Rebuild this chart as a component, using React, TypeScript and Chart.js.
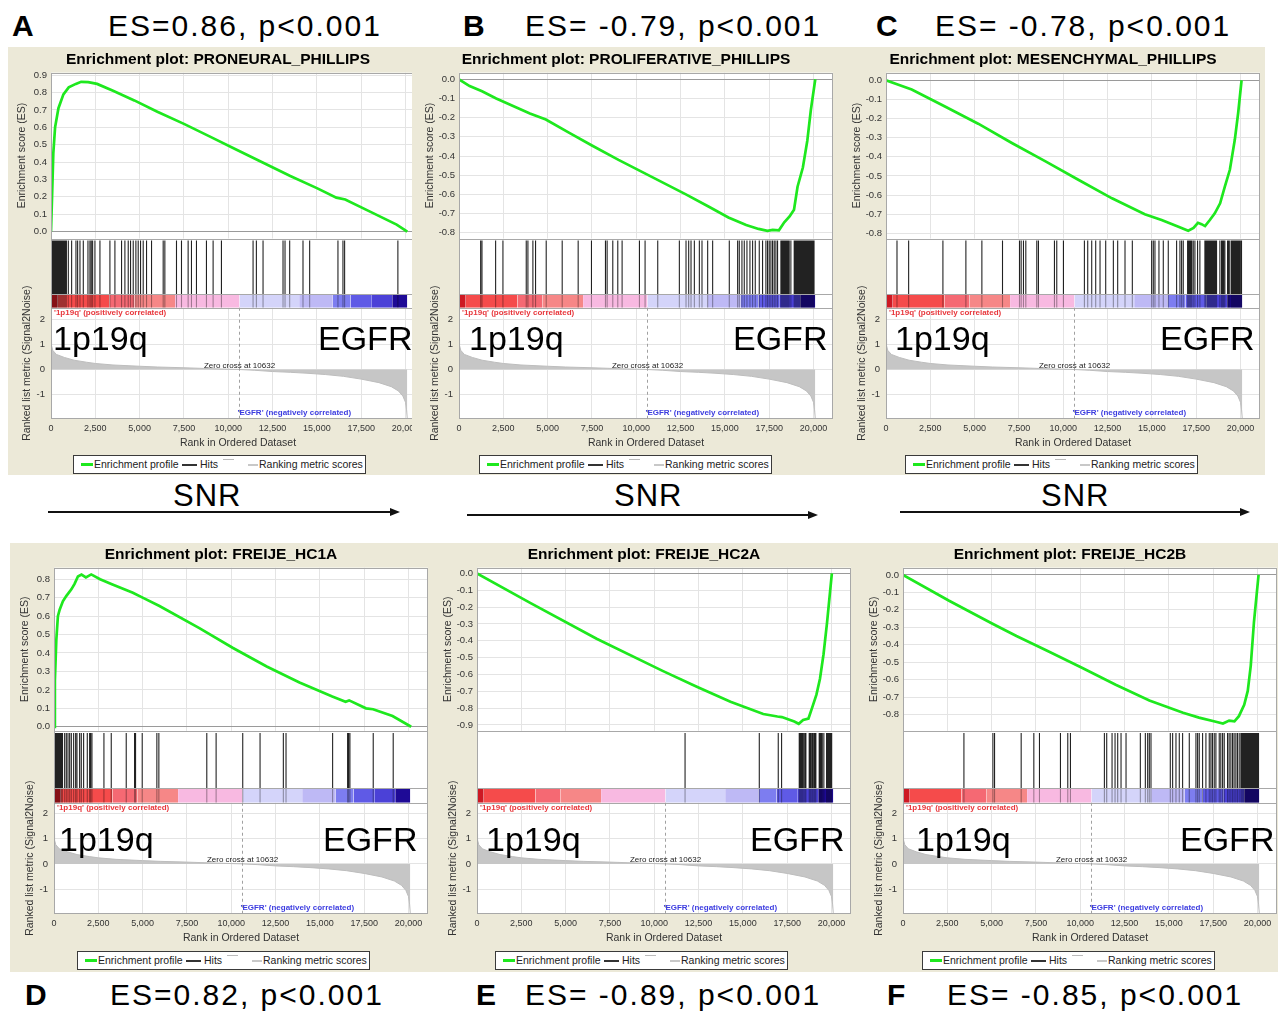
import React, { useEffect, useRef } from "react";
import { Chart, registerables } from "chart.js";

Chart.register(...registerables);

const FONT = "'Liberation Sans', Arial, Helvetica, sans-serif";
Chart.defaults.font.family = FONT;

// ---------- shared ranked list (same dataset in all six panels) ----------
const RANK_AXIS_MAX = 21100;
const RANK_TICKS = [0, 2500, 5000, 7500, 10000, 12500, 15000, 17500, 20000];
const ZERO_CROSS = 10632;
const POS_LABEL = "'1p19q' (positively correlated)";
const NEG_LABEL = "'EGFR' (negatively correlated)";
const METRIC_RANKS = [0, 30, 100, 300, 750, 1300, 2000, 2500, 3500, 5000, 6000, 7500, 9000, 10000, 10632, 11500, 12500, 13500, 14500, 15500, 16500, 17500, 18500, 19200, 19600, 19850, 20000, 20060, 20100];
const METRIC_VALUES = [1.2, 0.95, 0.76, 0.6, 0.48, 0.37, 0.29, 0.24, 0.18, 0.13, 0.1, 0.07, 0.035, 0.012, 0, -0.03, -0.08, -0.11, -0.15, -0.2, -0.27, -0.38, -0.52, -0.68, -0.85, -1.05, -1.3, -1.6, -1.95];
const BAR_STARTS = [0, 380, 3300, 4700, 7000, 10632, 14000, 15900, 16900, 18100, 19250];
const BAR_ENDS = [380, 3300, 4700, 7000, 10632, 14000, 15900, 16900, 18100, 19250, 20100];
const BAR_COLORS = ["rgb(205,25,35)", "rgb(245,75,75)", "rgb(245,105,115)", "rgb(246,135,135)", "rgb(248,185,225)", "rgb(212,212,250)", "rgb(190,185,245)", "rgb(125,125,240)", "rgb(95,90,230)", "rgb(75,65,215)", "rgb(30,10,150)"];

// ---------- panel A ----------
const A_TITLE = "Enrichment plot: PRONEURAL_PHILLIPS";
const A_ES_RANKS = [0, 60, 130, 230, 420, 700, 1000, 1400, 1700, 2100, 2600, 3500, 4700, 6000, 7500, 9000, 10500, 12000, 13500, 15000, 16100, 16600, 18000, 19500, 20100];
const A_ES_VALUES = [0, 0.2, 0.45, 0.6, 0.71, 0.79, 0.83, 0.85, 0.862, 0.86, 0.85, 0.81, 0.755, 0.69, 0.62, 0.545, 0.47, 0.395, 0.32, 0.25, 0.195, 0.185, 0.115, 0.04, 0];
const A_HITS = [0, 25, 55, 85, 115, 150, 180, 215, 250, 285, 320, 355, 390, 430, 470, 510, 550, 590, 635, 680, 725, 770, 820, 870, 977, 1164, 1408, 1502, 1634, 1822, 2085, 2197, 2272, 2348, 2479, 2761, 3324, 3606, 3981, 4169, 4357, 4488, 4639, 4789, 4920, 5052, 5202, 5390, 5672, 6329, 6423, 7080, 7362, 7737, 7925, 8207, 8770, 9146, 9615, 11400, 11587, 11963, 13090, 13203, 13466, 14217, 14593, 16189, 16471, 16565, 19570];

// ---------- panel B ----------
const B_TITLE = "Enrichment plot: PROLIFERATIVE_PHILLIPS";
const B_ES_RANKS = [0, 600, 1300, 2100, 3400, 4000, 4900, 6200, 7500, 9000, 10900, 12800, 14100, 15200, 16200, 16900, 17400, 17700, 18050, 18350, 18650, 18900, 19100, 19400, 19650, 19850, 20100];
const B_ES_VALUES = [0, -0.035, -0.062, -0.1, -0.153, -0.178, -0.21, -0.278, -0.345, -0.42, -0.51, -0.6, -0.664, -0.72, -0.76, -0.78, -0.79, -0.785, -0.787, -0.745, -0.715, -0.68, -0.56, -0.46, -0.32, -0.16, 0];
const B_HITS = [1221, 1296, 2066, 2479, 3794, 3888, 4169, 4319, 4920, 5822, 6723, 7474, 8263, 8357, 8676, 8958, 9202, 10179, 10498, 11212, 12432, 12808, 12958, 13090, 13278, 13560, 13709, 14029, 14310, 15249, 15719, 15813, 15963, 16094, 16245, 16414, 16564, 16714, 16940, 17127, 17315, 17409, 17503, 17597, 17691, 17785, 17879, 17973, 18160, 18200, 18240, 18280, 18320, 18360, 18400, 18440, 18480, 18520, 18560, 18600, 18630, 18724, 18911, 18950, 18990, 19030, 19070, 19110, 19150, 19190, 19230, 19270, 19310, 19350, 19390, 19430, 19470, 19510, 19550, 19590, 19630, 19670, 19710, 19750, 19790, 19830, 19870, 19910, 19950, 19990, 20030];

// ---------- panel C ----------
const C_TITLE = "Enrichment plot: MESENCHYMAL_PHILLIPS";
const C_ES_RANKS = [0, 700, 1450, 3300, 5200, 7100, 9000, 10850, 12750, 14600, 15550, 16500, 17050, 17350, 17600, 17800, 18000, 18270, 18550, 18850, 19120, 19400, 19680, 19870, 20060];
const C_ES_VALUES = [0, -0.023, -0.048, -0.136, -0.227, -0.328, -0.424, -0.52, -0.617, -0.7, -0.73, -0.765, -0.786, -0.772, -0.745, -0.752, -0.762, -0.73, -0.695, -0.643, -0.555, -0.468, -0.31, -0.17, 0];
const C_HITS = [620, 1277, 3211, 4507, 5409, 6573, 7531, 7625, 7756, 7888, 8507, 8601, 9503, 9634, 10010, 11193, 11381, 11606, 11831, 12075, 12395, 12827, 13071, 13484, 13897, 14986, 15080, 15174, 15399, 15644, 15925, 16395, 16583, 16677, 16771, 17015, 17070, 17130, 17190, 17250, 17334, 17428, 17578, 17709, 17991, 18040, 18090, 18140, 18190, 18240, 18290, 18340, 18390, 18440, 18490, 18540, 18600, 18649, 18836, 18930, 18990, 19050, 19118, 19268, 19330, 19400, 19494, 19540, 19590, 19640, 19690, 19740, 19790, 19840, 19890, 19940, 19990, 20057];

// ---------- panel D ----------
const D_TITLE = "Enrichment plot: FREIJE_HC1A";
const D_ES_RANKS = [0, 50, 130, 220, 320, 500, 700, 980, 1160, 1350, 1550, 1800, 2100, 2600, 3300, 4450, 5000, 5950, 8200, 10100, 12000, 13850, 15700, 16450, 16650, 17600, 18000, 19100, 20150];
const D_ES_VALUES = [0, 0.25, 0.47, 0.6, 0.635, 0.68, 0.71, 0.745, 0.775, 0.815, 0.825, 0.81, 0.826, 0.8, 0.772, 0.727, 0.7, 0.655, 0.535, 0.427, 0.327, 0.24, 0.164, 0.136, 0.143, 0.1, 0.095, 0.058, 0];
const D_HITS = [0, 40, 90, 140, 190, 240, 300, 360, 420, 480, 601, 695, 789, 883, 977, 1108, 1221, 1296, 1446, 1540, 1671, 1878, 2009, 2066, 2141, 2817, 3230, 4075, 4545, 4601, 4977, 5803, 5916, 8620, 9146, 10648, 11625, 12939, 13090, 15719, 16564, 16620, 16695, 18010, 19137];

// ---------- panel E ----------
const E_TITLE = "Enrichment plot: FREIJE_HC2A";
const E_ES_RANKS = [0, 3000, 6750, 10500, 12400, 14300, 16150, 16950, 17200, 17900, 18150, 18400, 18700, 18900, 19150, 19350, 19550, 19750, 20020];
const E_ES_VALUES = [0, -0.175, -0.388, -0.58, -0.673, -0.762, -0.835, -0.85, -0.853, -0.88, -0.893, -0.87, -0.862, -0.8, -0.72, -0.625, -0.48, -0.29, 0];
const E_HITS = [11738, 15926, 16996, 17184, 18180, 18240, 18300, 18360, 18430, 18500, 18555, 18742, 18800, 18860, 18930, 19000, 19060, 19118, 19306, 19360, 19420, 19480, 19569, 19719, 19780, 19840, 19900, 19963, 20010];

// ---------- panel F ----------
const F_TITLE = "Enrichment plot: FREIJE_HC2B";
const F_ES_RANKS = [0, 2600, 5050, 6400, 8250, 10150, 12000, 13900, 15800, 16700, 17650, 18050, 18400, 18700, 18950, 19250, 19450, 19620, 19800, 20060];
const F_ES_VALUES = [0, -0.148, -0.28, -0.35, -0.44, -0.535, -0.63, -0.72, -0.79, -0.818, -0.842, -0.852, -0.835, -0.84, -0.81, -0.745, -0.665, -0.52, -0.27, 0];
const F_HITS = [3437, 5071, 5165, 6667, 7381, 7700, 8883, 9296, 9446, 11362, 11493, 11794, 11963, 12113, 12301, 12583, 13390, 13672, 13803, 13897, 13991, 15080, 15212, 15400, 15587, 15775, 16151, 16527, 16621, 16714, 16902, 17090, 17278, 17372, 17460, 17559, 17653, 17841, 17930, 18030, 18123, 18311, 18400, 18498, 18592, 18680, 18780, 18870, 18967, 19062, 19100, 19140, 19180, 19220, 19260, 19300, 19340, 19380, 19420, 19460, 19500, 19540, 19580, 19620, 19660, 19700, 19740, 19780, 19820, 19860, 19900, 19940, 19980, 20020, 20057];

// ---------- header / annotation texts ----------
const HEADER_LETTERS = ["A", "B", "C", "D", "E", "F"];
const HEADER_TEXTS = ["ES=0.86, p<0.001", "ES= -0.79, p<0.001", "ES= -0.78, p<0.001", "ES=0.82, p<0.001", "ES= -0.89, p<0.001", "ES= -0.85, p<0.001"];
const LEFT_GROUP = "1p19q";
const RIGHT_GROUP = "EGFR";
const SNR_LABEL = "SNR";

// ---------- layout & style (not data) ----------
const BEIGE = "#ECE9D8";
const ES_COLOR = "rgb(30,232,30)";
const AXIS_W = 40;
const PLOT_W = 374;
const CANVAS_W = AXIS_W + PLOT_W;
const CANVAS_H = 400;
const BAR_TOP = 0.2;
const HIT_TOP = 0.97;

const ROWS = [
  { top: 48, weights: [165.4, 69, 110.6], metricMin: -1.95, metricMax: 2.45, groupTop: 321.2, legendTop: 455, headerTop: 11.3 },
  { top: 543, weights: [163, 71.8, 110.8], metricMin: -1.98, metricMax: 2.43, groupTop: 822.2, legendTop: 951, headerTop: 979.6 },
];

const PANELS = [
  { title: A_TITLE, esRanks: A_ES_RANKS, esValues: A_ES_VALUES, hits: A_HITS, esMin: -0.04, esMax: 0.915, row: 0, plotLeft: 51, clip: 401, letterX: 12, textX: 108, g1: 53, g2: 318, legend: 73 },
  { title: B_TITLE, esRanks: B_ES_RANKS, esValues: B_ES_VALUES, hits: B_HITS, esMin: -0.83, esMax: 0.035, row: 0, plotLeft: 459.3, clip: 0, letterX: 463, textX: 525, g1: 469, g2: 733, legend: 479 },
  { title: C_TITLE, esRanks: C_ES_RANKS, esValues: C_ES_VALUES, hits: C_HITS, esMin: -0.827, esMax: 0.04, row: 0, plotLeft: 885.7, clip: 0, letterX: 876, textX: 935, g1: 895, g2: 1160, legend: 905 },
  { title: D_TITLE, esRanks: D_ES_RANKS, esValues: D_ES_VALUES, hits: D_HITS, esMin: -0.022, esMax: 0.863, row: 1, plotLeft: 54.3, clip: 0, letterX: 25, textX: 110, g1: 59, g2: 323, legend: 77 },
  { title: E_TITLE, esRanks: E_ES_RANKS, esValues: E_ES_VALUES, hits: E_HITS, esMin: -0.935, esMax: 0.035, row: 1, plotLeft: 476.7, clip: 0, letterX: 476, textX: 525, g1: 486, g2: 750, legend: 495 },
  { title: F_TITLE, esRanks: F_ES_RANKS, esValues: F_ES_VALUES, hits: F_HITS, esMin: -0.894, esMax: 0.042, row: 1, plotLeft: 903.3, clip: 0, letterX: 887, textX: 947, g1: 916, g2: 1180, legend: 922 },
];

const ARROWS = [
  { label: 173, x1: 48, x2: 400, y: 512 },
  { label: 614, x1: 467, x2: 818, y: 515 },
  { label: 1041, x1: 900, x2: 1250, y: 512 },
];

const gseaDecor = {
  id: "gseaDecor",
  beforeDraw(chart: any) {
    const { ctx, chartArea: a } = chart;
    ctx.save();
    ctx.fillStyle = "#ffffff";
    ctx.fillRect(a.left, a.top, a.right - a.left, a.bottom - a.top);
    ctx.restore();
  },
  beforeDatasetsDraw(chart: any) {
    const { ctx, chartArea: a } = chart;
    const t = chart.scales.yTrack;
    ctx.save();
    ctx.fillStyle = "#ffffff";
    ctx.fillRect(a.left, t.top, a.right - a.left, t.bottom - t.top);
    ctx.restore();
  },
  afterDatasetsDraw(chart: any) {
    const { ctx, chartArea: a, scales } = chart;
    const es = scales.yES, t = scales.yTrack, m = scales.yMetric, x = scales.x;
    const L = Math.round(a.left) + 0.5;
    const R = Math.round(a.right) - 0.5;
    const hline = (y: number) => {
      const yy = Math.round(y) + 0.5;
      ctx.beginPath();
      ctx.moveTo(L, yy);
      ctx.lineTo(R, yy);
      ctx.stroke();
    };
    ctx.save();
    ctx.strokeStyle = "#a8a8a8";
    ctx.lineWidth = 1;
    ctx.strokeRect(L, Math.round(a.top) + 0.5, R - L, Math.round(a.bottom) - Math.round(a.top) - 1);
    hline(es.bottom);
    hline(t.getPixelForValue(BAR_TOP));
    hline(t.bottom);
    const zx = Math.round(x.getPixelForValue(ZERO_CROSS)) + 0.5;
    ctx.setLineDash([3, 3]);
    ctx.strokeStyle = "#a0a0a0";
    ctx.beginPath();
    ctx.moveTo(zx, m.top);
    ctx.lineTo(zx, m.bottom);
    ctx.stroke();
    ctx.setLineDash([]);
    ctx.font = `bold 8px ${FONT}`;
    ctx.fillStyle = "#e8383d";
    ctx.textAlign = "left";
    ctx.textBaseline = "middle";
    ctx.fillText(POS_LABEL, a.left + 3, m.top + 5);
    ctx.font = `8px ${FONT}`;
    ctx.fillStyle = "#222";
    ctx.textAlign = "center";
    ctx.textBaseline = "alphabetic";
    ctx.fillText(`Zero cross at ${ZERO_CROSS}`, zx, m.getPixelForValue(0) - 2);
    ctx.font = `bold 8px ${FONT}`;
    ctx.fillStyle = "#3c3ce0";
    ctx.textAlign = "left";
    ctx.textBaseline = "middle";
    ctx.fillText(NEG_LABEL, zx - 2, m.bottom - 6);
    ctx.restore();
  },
};

function fmt1(v: any) {
  const n = Number(v);
  return (Math.abs(n) < 1e-9 ? 0 : n).toFixed(1);
}

function segmentPoints(xs: number[], y0: number, y1: number) {
  const out: any[] = [];
  xs.forEach((h) => {
    out.push({ x: h, y: y0 }, { x: h, y: y1 }, { x: h, y: null });
  });
  return out;
}

function buildConfig(p: any): any {
  const row = ROWS[p.row];
  const esData = p.esRanks.map((r: number, i: number) => ({ x: r, y: p.esValues[i] }));
  const metricData = METRIC_RANKS.map((r, i) => ({ x: r, y: METRIC_VALUES[i] }));
  const datasets: any[] = [
    { label: "Enrichment profile", data: esData, yAxisID: "yES", borderColor: ES_COLOR, borderWidth: 2.7, pointRadius: 0, fill: false, tension: 0, order: 0 },
    { label: "Hits", data: segmentPoints(p.hits, BAR_TOP, HIT_TOP), yAxisID: "yTrack", borderColor: "rgba(10,10,10,0.9)", borderWidth: 1.1, pointRadius: 0, spanGaps: false, fill: false, order: 1 },
    { label: "Hits (over colour bar)", data: segmentPoints(p.hits, 0, BAR_TOP), yAxisID: "yTrack", borderColor: "rgba(0,0,0,0.35)", borderWidth: 1.1, pointRadius: 0, spanGaps: false, fill: false, order: 1 },
  ];
  BAR_STARTS.forEach((s, i) => {
    datasets.push({
      label: "bar" + i,
      data: [{ x: s, y: BAR_TOP }, { x: BAR_ENDS[i], y: BAR_TOP }],
      yAxisID: "yTrack",
      borderWidth: 0,
      borderColor: BAR_COLORS[i],
      backgroundColor: BAR_COLORS[i],
      pointRadius: 0,
      fill: { value: 0 },
      order: 2,
    });
  });
  datasets.push({ label: "Ranking metric scores", data: metricData, yAxisID: "yMetric", borderColor: "#bdbdbd", borderWidth: 1, backgroundColor: "#c6c6c6", pointRadius: 0, fill: { value: 0 }, order: 3 });

  const fitW = (s: any) => {
    s.width = AXIS_W;
  };
  const tickFont = { size: 9.5, family: FONT };
  const lightGrid = "#e4e4e4";
  return {
    type: "line",
    data: { datasets },
    options: {
      responsive: false,
      animation: false,
      devicePixelRatio: 1,
      events: [],
      layout: { padding: 0 },
      plugins: {
        legend: { display: false },
        tooltip: { enabled: false },
        title: { display: true, text: p.title, color: "#000", font: { size: 15.5, weight: "bold", family: FONT }, padding: { top: 2, bottom: 4 } },
      },
      scales: {
        x: {
          type: "linear",
          position: "bottom",
          min: 0,
          max: RANK_AXIS_MAX,
          afterBuildTicks: (s: any) => {
            s.ticks = RANK_TICKS.map((v) => ({ value: v }));
          },
          ticks: { autoSkip: false, maxRotation: 0, color: "#333", padding: 4, font: { size: 9, family: FONT }, callback: (v: any) => Number(v).toLocaleString("en-US") },
          grid: { color: lightGrid, drawTicks: false },
          border: { display: false },
          title: { display: true, text: "Rank in Ordered Dataset", color: "#333", font: { size: 10.5, family: FONT, lineHeight: 1 }, padding: { top: 0, bottom: 0 } },
        },
        yMetric: {
          type: "linear",
          position: "left",
          stack: "gsea",
          stackWeight: row.weights[2],
          weight: 1,
          min: row.metricMin,
          max: row.metricMax,
          ticks: { stepSize: 1, includeBounds: false, autoSkip: false, color: "#333", padding: 6, font: tickFont, callback: (v: any) => String(Math.round(Number(v))) },
          grid: { color: lightGrid, drawTicks: false },
          border: { display: false },
          title: { display: true, text: "Ranked list metric (Signal2Noise)", color: "#333", font: { size: 10.5, family: FONT }, padding: { top: 10, bottom: 0 } },
          afterFit: fitW,
        },
        yTrack: {
          type: "linear",
          position: "left",
          stack: "gsea",
          stackWeight: row.weights[1],
          weight: 2,
          min: 0,
          max: 1,
          display: false,
          afterFit: fitW,
        },
        yES: {
          type: "linear",
          position: "left",
          stack: "gsea",
          stackWeight: row.weights[0],
          weight: 3,
          min: p.esMin,
          max: p.esMax,
          ticks: { stepSize: 0.1, includeBounds: false, autoSkip: false, color: "#333", padding: 4, font: tickFont, callback: fmt1 },
          grid: { color: (c: any) => (c.tick && Math.abs(c.tick.value) < 1e-9 ? "#9a9a9a" : lightGrid), drawTicks: false },
          border: { display: false },
          title: { display: true, text: "Enrichment score (ES)", color: "#333", font: { size: 10.5, family: FONT }, padding: { top: 4.5, bottom: 0 } },
          afterFit: fitW,
        },
      },
    },
    plugins: [gseaDecor],
  };
}

function PanelChart({ p }: { p: any }) {
  const ref = useRef<HTMLCanvasElement | null>(null);
  useEffect(() => {
    if (!ref.current) return;
    const chart = new Chart(ref.current, buildConfig(p));
    return () => chart.destroy();
  }, [p]);
  const row = ROWS[p.row];
  return (
    <div style={{ position: "absolute", left: p.plotLeft - AXIS_W, top: row.top, width: p.clip || CANVAS_W, height: CANVAS_H, overflow: "hidden" }}>
      <canvas ref={ref} width={CANVAS_W} height={CANVAS_H} style={{ display: "block" }} />
    </div>
  );
}

function Legend({ left, top }: { left: number; top: number }) {
  const abs: any = { position: "absolute" };
  return (
    <div style={{ position: "absolute", left, top, width: 293, height: 19, boxSizing: "border-box", border: "1px solid #3a3a3a", background: "#ffffff", fontSize: 10.5, color: "#222", lineHeight: "17px", whiteSpace: "nowrap" }}>
      <div style={{ ...abs, left: 7, top: 7, width: 12, height: 3, background: ES_COLOR }} />
      <span style={{ ...abs, left: 20, top: 0 }}>Enrichment profile</span>
      <div style={{ ...abs, left: 108, top: 8, width: 15, height: 1.5, background: "#333" }} />
      <span style={{ ...abs, left: 126, top: 0 }}>Hits</span>
      <div style={{ ...abs, left: 149, top: 3, width: 11, height: 1, background: "#bbb" }} />
      <div style={{ ...abs, left: 174, top: 8, width: 10, height: 1.5, background: "#c8c8c8" }} />
      <span style={{ ...abs, left: 185, top: 0 }}>Ranking metric scores</span>
    </div>
  );
}

function Arrow({ x1, x2, y }: { x1: number; x2: number; y: number }) {
  return (
    <>
      <div style={{ position: "absolute", left: x1, top: y - 1, width: x2 - x1 - 9, height: 2, background: "#111" }} />
      <div style={{ position: "absolute", left: x2 - 10, top: y - 4.5, width: 0, height: 0, borderTop: "4.5px solid transparent", borderBottom: "4.5px solid transparent", borderLeft: "10px solid #111" }} />
    </>
  );
}

export default function App() {
  return (
    <div style={{ position: "absolute", left: 0, top: 0, width: 1278, height: 1015, overflow: "hidden", background: "#ffffff", fontFamily: FONT, color: "#000" }}>
      <div style={{ position: "absolute", left: 8, top: 47, width: 1257, height: 428, background: BEIGE }} />
      <div style={{ position: "absolute", left: 10, top: 543, width: 1268, height: 429, background: BEIGE }} />
      {PANELS.map((p, i) => (
        <PanelChart key={i} p={p} />
      ))}
      {PANELS.map((p, i) => {
        const row = ROWS[p.row];
        return (
          <React.Fragment key={"o" + i}>
            <div style={{ position: "absolute", left: p.letterX, top: row.headerTop, fontSize: 30, lineHeight: "30px", fontWeight: "bold" }}>{HEADER_LETTERS[i]}</div>
            <div style={{ position: "absolute", left: p.textX, top: row.headerTop, fontSize: 30, lineHeight: "30px", letterSpacing: 2, whiteSpace: "nowrap" }}>{HEADER_TEXTS[i]}</div>
            <div style={{ position: "absolute", left: p.g1, top: row.groupTop, fontSize: 34, lineHeight: "34px", whiteSpace: "nowrap" }}>{LEFT_GROUP}</div>
            <div style={{ position: "absolute", left: p.g2, top: row.groupTop, fontSize: 34, lineHeight: "34px", whiteSpace: "nowrap" }}>{RIGHT_GROUP}</div>
            <Legend left={p.legend} top={row.legendTop} />
          </React.Fragment>
        );
      })}
      {ARROWS.map((a, i) => (
        <React.Fragment key={"a" + i}>
          <div style={{ position: "absolute", left: a.label, top: 479.7, fontSize: 31, lineHeight: "31px", letterSpacing: 1 }}>{SNR_LABEL}</div>
          <Arrow x1={a.x1} x2={a.x2} y={a.y} />
        </React.Fragment>
      ))}
    </div>
  );
}
